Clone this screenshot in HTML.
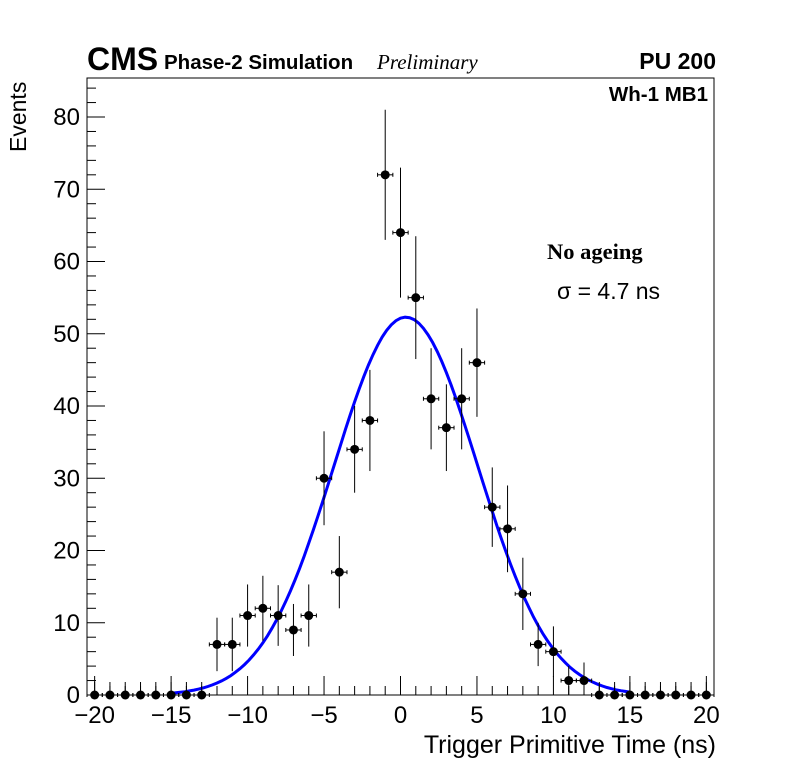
<!DOCTYPE html>
<html><head><meta charset="utf-8"><style>
html,body{margin:0;padding:0;background:#fff}
svg text{font-family:"Liberation Sans",sans-serif}
</style></head><body>
<svg id="chart" width="796" height="772" xmlns="http://www.w3.org/2000/svg">
<rect x="0" y="0" width="796" height="772" fill="#fff"/>
<g id="ticks"></g>
<g id="fit"></g>
<g id="pts"></g>
<rect x="87" y="78" width="627" height="617" fill="none" stroke="#000" stroke-width="1"/>
<text x="87" y="70" font-size="32" font-weight="bold">CMS</text>
<text x="164" y="69" font-size="20.5" font-weight="bold">Phase-2 Simulation</text>
<text x="377" y="69" font-size="21" font-style="italic" style="font-family:'Liberation Serif',serif">Preliminary</text>
<text x="716" y="69" font-size="23" font-weight="bold" text-anchor="end">PU 200</text>
<text x="708" y="101" font-size="20.5" font-weight="bold" text-anchor="end">Wh-1 MB1</text>
<text x="547" y="259" font-size="22.5" font-weight="bold" style="font-family:'Liberation Serif',serif">No ageing</text>
<text x="557" y="299" font-size="23">σ = 4.7 ns</text>
<text x="716" y="753" font-size="25" text-anchor="end">Trigger Primitive Time (ns)</text>
<text transform="translate(26,152) rotate(-90)" font-size="23">Events</text>
</svg>
<script>
const xCats=[-20,-19,-18,-17,-16,-15,-14,-13,-12,-11,-10,-9,-8,-7,-6,-5,-4,-3,-2,-1,0,1,2,3,4,5,6,7,8,9,10,11,12,13,14,15,16,17,18,19,20];
const counts=[0,0,0,0,0,0,0,0,7,7,11,12,11,9,11,30,17,34,38,72,64,55,41,37,41,46,26,23,14,7,6,2,2,0,0,0,0,0,0,0,0];
const errs=[1.8,1.8,1.8,1.8,1.8,1.8,1.8,1.8,3.7,3.7,4.3,4.5,4.2,3.6,4.3,6.5,5,6,7,9,9,8.5,7,6,7,7.5,5.5,6,5,3,3.5,2,2.5,1.8,1.8,1.8,1.8,1.8,1.8,1.8,1.8];
const fitMean=[0.35], fitSigma=[4.7], fitAmp=[52.3];
const xTicks=[-20,-15,-10,-5,0,5,10,15,20];
const xTickLabels=["−20","−15","−10","−5","0","5","10","15","20"];
const yTicks=[0,10,20,30,40,50,60,70,80];
const NS="http://www.w3.org/2000/svg";
const X0=87,X1=714,Y0=695,Y1=78,xmin=-20.5,xmax=20.5,ymin=0,ymax=85.4;
const sx=v=>X0+(v-xmin)/(xmax-xmin)*(X1-X0);
const sy=v=>Y0-(v-ymin)/(ymax-ymin)*(Y0-Y1);
function mk(tag,attrs,parent){const e=document.createElementNS(NS,tag);for(const k in attrs)e.setAttribute(k,attrs[k]);parent.appendChild(e);return e;}
const tg=document.getElementById('ticks');
for(let v=-20;v<=20;v++){const maj=v%5===0;const l=mk('line',{x1:sx(v),x2:sx(v),y1:Y0,y2:Y0-(maj?19:9),stroke:'#000'},tg);

}
xTicks.forEach((v,i)=>{const t=mk('text',{x:sx(v),y:723,'font-size':24,'text-anchor':'middle'},tg);t.textContent=xTickLabels[i];

});
for(let v=0;v<=85;v+=2){const maj=v%10===0;const l=mk('line',{x1:X0,x2:X0+(maj?18:9),y1:sy(v),y2:sy(v),stroke:'#000'},tg);

}
yTicks.forEach(v=>{const t=mk('text',{x:80,y:sy(v)+8,'font-size':24,'text-anchor':'end'},tg);t.textContent=String(v);

});
const fg=document.getElementById('fit');
let d='';for(let i=0;i<=100;i++){const x=-15+30*i/100;const y=fitAmp[0]*Math.exp(-0.5*Math.pow((x-fitMean[0])/fitSigma[0],2));d+=(i?'L':'M')+sx(x).toFixed(1)+','+sy(y).toFixed(1);}
const fp=mk('path',{d:d,fill:'none',stroke:'#0000ff','stroke-width':3},fg);


const pg=document.getElementById('pts');
xCats.forEach((x,i)=>{const g=mk('g',{},pg);


const cx=sx(x),cy=sy(counts[i]);
mk('line',{x1:sx(x-0.5),x2:sx(x+0.5),y1:cy,y2:cy,stroke:'#000'},g);
mk('line',{x1:cx,x2:cx,y1:sy(Math.max(0,counts[i]-errs[i])),y2:sy(counts[i]+errs[i]),stroke:'#000'},g);
mk('line',{x1:sx(x-0.5),x2:sx(x-0.5),y1:cy-2,y2:cy+2,stroke:'#000'},g);
mk('line',{x1:sx(x+0.5),x2:sx(x+0.5),y1:cy-2,y2:cy+2,stroke:'#000'},g);
mk('circle',{cx:cx,cy:cy,r:4.5,fill:'#000'},g);});
</script>
</body></html>
